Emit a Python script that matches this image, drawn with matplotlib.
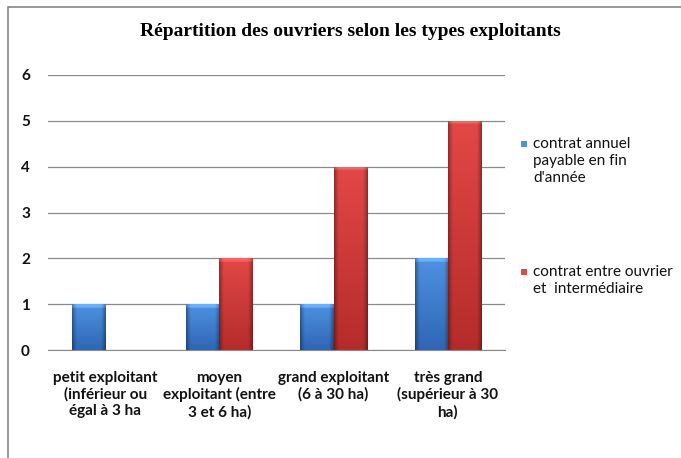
"""Répartition des ouvriers - bar chart in the old Excel 2007 look"""

import numpy as np
import matplotlib
matplotlib.use("Agg")
import matplotlib.pyplot as plt
from matplotlib.patches import Rectangle

#==================================
# data

categories = [
	"petit exploitant\n(inférieur ou\négal à 3 ha",
	"moyen\nexploitant (entre\n3 et 6 ha)",
	"grand exploitant\n(6 à 30 ha)",
	"très grand\n(supérieur à 30\nha)",
]
annuel = [1, 1, 1, 2]
intermediaire = [0, 2, 4, 5]
series_names = ["contrat annuel\npayable en fin\nd'année", "contrat entre ouvrier\net  intermédiaire"]
yticks = [0, 1, 2, 3, 4, 5, 6]

# colour at the top and bottom of a bar (centre of the bar)
BLUE_TOP, BLUE_BOT = np.array([78, 146, 226]) / 255, np.array([46, 102, 180]) / 255
RED_TOP, RED_BOT = np.array([226, 72, 70]) / 255, np.array([180, 44, 42]) / 255

LABEL_FONT = "Lato"

#==================================

def gradient_fill(ax, rects, top, bot):
	"""paint each bar with a vertical shade, darker sides and a small bevel on top"""
	n = 64
	t = np.linspace(0, 1, n)
	# dark only near the two edges
	edge = np.minimum(t, 1 - t)
	side = 0.62 + 0.38 * np.clip(edge / 0.14, 0, 1) ** 0.8
	for r in rects:
		x, y, w, h = r.get_x(), r.get_y(), r.get_width(), r.get_height()
		if h <= 0:
			continue
		m = 200
		v = np.linspace(0, 1, m)[:, None]
		col = top[None, :] * (1 - v) + bot[None, :] * v
		img = col[:, None, :] * side[None, :, None]
		bevel = max(1, int(m * 0.08 / h))
		img[:bevel] = np.clip(img[:bevel] * 1.12 + 0.06, 0, 1)
		im = ax.imshow(img, extent=[x, x + w, y, y + h], aspect="auto",
			origin="upper", zorder=3, interpolation="bilinear")
		im.set_clip_path(r)


fig = plt.figure(figsize=(6.81, 4.58), dpi=100)
W, H = 681, 458
ax = fig.add_axes([48 / W, 1 - 350 / H, (505 - 48) / W, (350 - 75) / H])

x = np.arange(len(categories))
bw = 0.29
b1 = ax.bar(x - bw / 2, annuel, bw, color=tuple(BLUE_BOT), zorder=2)
b2 = ax.bar(x + bw / 2, intermediaire, bw, color=tuple(RED_BOT), zorder=2)
gradient_fill(ax, b1, BLUE_TOP, BLUE_BOT)
gradient_fill(ax, b2, RED_TOP, RED_BOT)

ax.set_xlim(-0.5, len(categories) - 0.5)
ax.set_ylim(0, 6)
ax.set_yticks(yticks)
ax.yaxis.grid(True, color="#8a8a8a", lw=0.9)
ax.set_axisbelow(True)
for s in ["left", "right", "top"]:
	ax.spines[s].set_visible(False)
ax.spines["bottom"].set_color("#8a8a8a")
ax.spines["bottom"].set_zorder(4)
ax.tick_params(length=0)
ax.tick_params(axis="y", pad=13)
ax.tick_params(axis="x", pad=15)
ax.set_xticks(x)
ax.set_xticklabels(categories, linespacing=1.2)
for lab in ax.get_xticklabels() + ax.get_yticklabels():
	lab.set_fontfamily(LABEL_FONT)
	lab.set_fontweight("bold")
	lab.set_fontsize(11)
	lab.set_color("#111111")

fig.text(0.515, 1 - 31 / H, "Répartition des ouvriers selon les types exploitants",
	ha="center", va="center", family="Liberation Serif", weight="bold", fontsize=14)

# legend built by hand, the way excel spreads it
for (name, col, top) in [(series_names[0], BLUE_TOP, 140), (series_names[1], RED_TOP, 268)]:
	fig.add_artist(Rectangle((521 / W, 1 - (top + 7) / H), 6 / W, 6 / H,
		transform=fig.transFigure, facecolor=tuple(col), edgecolor="none"))
	fig.text(533 / W, 1 - (top - 3) / H, name, ha="left", va="top",
		family=LABEL_FONT, fontsize=11, linespacing=1.27, color="#111111")

# chart frame, cut off on the right and bottom
fig.add_artist(Rectangle((8 / W, -0.1), 1.2, 1.1 - 7 / H, transform=fig.transFigure,
	facecolor="none", edgecolor="#868686", lw=1.2))

plt.savefig("out.png", dpi=100)
